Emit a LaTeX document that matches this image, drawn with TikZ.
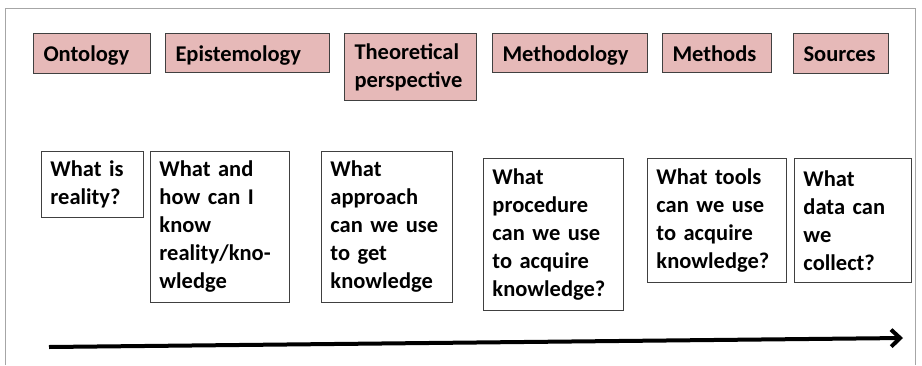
\documentclass[tikz,border=0pt]{standalone}
\usepackage{fontspec}
\setmainfont{Carlito}
\usepackage{xcolor}
\usetikzlibrary{arrows.meta}
\definecolor{pinkfill}{HTML}{E6B9B8}
\definecolor{framegray}{HTML}{A6A6A6}
\definecolor{boxline}{HTML}{404040}
\hyphenpenalty=10000
\exhyphenpenalty=10000

\begin{document}
\begin{tikzpicture}[x=1pt,y=-1pt,
	topic/.style={draw=boxline,line width=1pt,fill=pinkfill,anchor=north west,inner xsep=10pt,inner ysep=0pt,align=left,font=\fontsize{22.5}{28}\selectfont\bfseries},
	onetopic/.style={topic,text height=18.5pt,text depth=2.5pt},
	question/.style={draw=boxline,line width=0.9pt,fill=white,anchor=north west,inner xsep=9pt,inner ysep=0pt,align=left,font=\fontsize{22.5}{28}\selectfont\bfseries},
	timeline/.style={line width=4pt,-{Straight Barb[length=9pt,width=17pt]}}]
	\useasboundingbox (0,0) rectangle (922,365);
	\draw[framegray,line width=1pt] (5,365) -- (5,8.5) -- (915.5,8.5) -- (915.5,365);
	\node[onetopic,text width=97pt,minimum height=40pt] (onto) at (33,33) {Ontology};
	\node[onetopic,text width=144pt,minimum height=39pt] (episte) at (165,33) {Epistemology};
	\node[topic,text width=112pt,minimum height=67pt] (theory) at (344,33) {Theoretical\\perspective};
	\node[onetopic,text width=135pt,minimum height=39pt] (methodo) at (492,33) {Methodology};
	\node[onetopic,text width=89pt,minimum height=39pt] (methods) at (662,33) {Methods};
	\node[onetopic,text width=75pt,minimum height=40pt] (sources) at (793,33) {Sources};
	\node[question,text width=84pt,minimum height=66pt] (qonto) at (41,151) {What is\\reality?};
	\node[question,text width=121pt,minimum height=151pt] (qepiste) at (150,151) {What and\\how can I\\know\\reality/kno-\\wledge};
	\node[question,text width=113pt,minimum height=151pt] (qtheory) at (321,151) {What\\approach\\can we use\\to get\\knowledge};
	\node[question,text width=122pt,minimum height=152pt] (qmethodo) at (483,158) {What\\procedure\\can we use\\to acquire\\knowledge?};
	\node[question,text width=121pt,minimum height=124pt] (qmethods) at (647,158) {What tools\\can we use\\to acquire\\knowledge?};
	\node[question,text width=99pt,minimum height=124pt] (qsources) at (794,158) {What\\data can\\we\\collect?};
	\coordinate (tstart) at (49,347);
	\coordinate (tend) at (903,338);
	\draw[timeline] (tstart) -- (tend);
\end{tikzpicture}
\end{document}
